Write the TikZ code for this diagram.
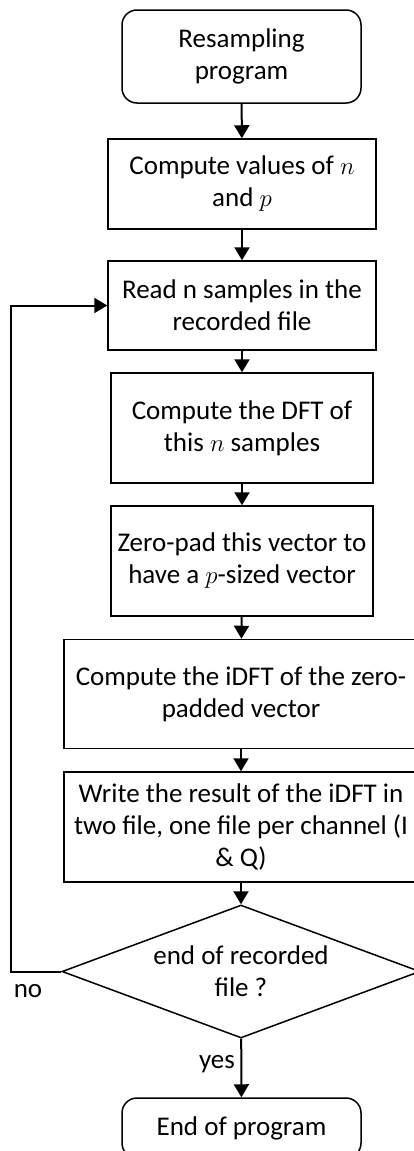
\documentclass[tikz,border=0pt]{standalone}
\usepackage{fontspec}
\setmainfont{Carlito}
\usepackage{tikz}
\usetikzlibrary{shapes.geometric, arrows.meta, positioning}

\begin{document}
\begin{tikzpicture}[x=1pt, y=-1pt,
    font=\fontsize{27}{32}\selectfont,
    stepbox/.style={rectangle, draw=black, line width=1.5pt, fill=white,
                 minimum width=#1, align=center, inner sep=0pt},
    termbox/.style={rectangle, rounded corners=15pt, draw=black, line width=1.5pt,
                 minimum width=239pt, align=center, inner sep=0pt},
    testbox/.style={diamond, aspect=2.69, draw=black, line width=1.5pt, minimum width=358pt,
                 minimum height=133pt, inner sep=0pt, align=center},
    flow/.style={line width=2pt, -{Triangle[length=13pt, width=15pt]}},
    label/.style={inner sep=0pt}
]
\useasboundingbox (0,0) rectangle (414,1151);
\clip (0,0) rectangle (414,1151);

\node[termbox, minimum height=93pt]       (start) at (241.5,56.5) {Resampling\\program};
\node[stepbox=268pt, minimum height=90pt] (vals)  at (242,184)    {Compute values of $n$\\and $p$};
\node[stepbox=268pt, minimum height=89pt] (read)  at (242,305.5)  {Read n samples in the\\recorded file};
\node[stepbox=262pt, minimum height=110pt] (dft)  at (242,428)    {Compute the DFT of\\this $n$ samples};
\node[stepbox=262pt, minimum height=110pt] (zpad) at (242,561)    {Zero-pad this vector to\\have a $p$-sized vector};
\node[stepbox=354pt, minimum height=109pt] (idft) at (241,694)    {Compute the iDFT of the zero-\\padded vector};
\node[stepbox=354pt, minimum height=110pt] (save) at (241,827)    {Write the result of the iDFT in\\two file, one file per channel (I\\\& Q)};
\node[testbox]                             (test) at (241,971.5)  {end of recorded\\file ?};
\node[termbox, minimum height=60pt]        (stop) at (241.5,1128) {End of program};

% main flow
\draw[flow] (start) -- (vals);
\draw[flow] (vals) -- (read);
\draw[flow] (read) -- (dft);
\draw[flow] (dft) -- (zpad);
\draw[flow] (zpad) -- (idft);
\draw[flow] (idft) -- (save);
\draw[flow] (save) -- (test);
\draw[flow] (test) -- (stop);

% loop back
\draw[flow] (test.west) -- ++(-50,0) |- (read.west);

\node[label] (no)  at (28,991)   {no};
\node[label] (yes) at (217,1064) {yes};
\end{tikzpicture}
\end{document}
